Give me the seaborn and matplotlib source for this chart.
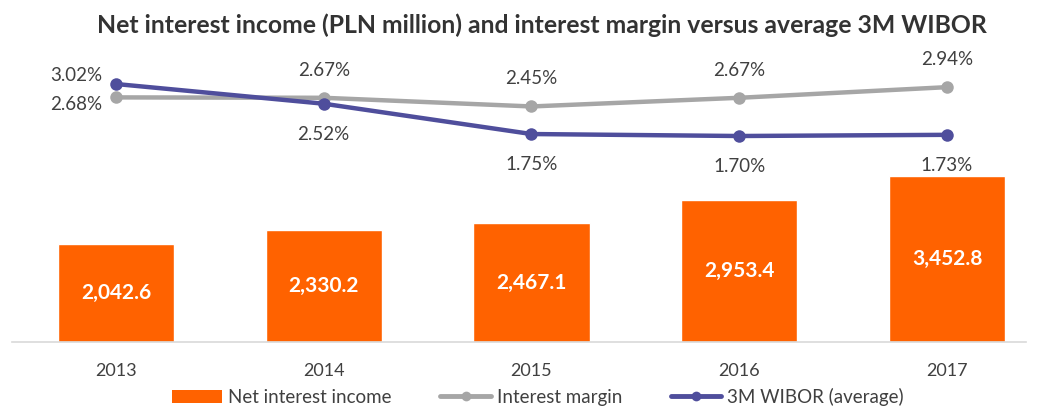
import numpy as np
import pandas as pd
import matplotlib
matplotlib.use("Agg")
import matplotlib.pyplot as plt
import seaborn as sns
from matplotlib.patches import Patch
from matplotlib.lines import Line2D

years = ["2013", "2014", "2015", "2016", "2017"]
net_interest_income = [2042.6, 2330.2, 2467.1, 2953.4, 3452.8]
interest_margin = [2.68, 2.67, 2.45, 2.67, 2.94]
wibor_3m = [3.02, 2.52, 1.75, 1.70, 1.73]

ORANGE = "#FF6200"
GREY = "#A6A6A6"
BLUE = "#4F4E9C"
TEXT = "#404040"

sns.set_theme(style="white")
plt.rcParams["font.family"] = ["Lato", "DejaVu Sans"]

df = pd.DataFrame({"year": years, "nii": net_interest_income,
                   "margin": interest_margin, "wibor": wibor_3m})
df["pos"] = np.arange(len(years))

fig = plt.figure(figsize=(10.38, 4.07), dpi=100)
ax = fig.add_axes([12 / 1038, 1 - 342 / 407, (1026 - 12) / 1038, (342 - 60) / 407])

sns.barplot(data=df, x="year", y="nii", color=ORANGE, saturation=1,
            width=0.56, ax=ax)
ax.set_ylim(0, 3452.8 * 282 / 166)
ax.set_xlim(-0.5, 4.38)
ax.set_xlabel("")
ax.set_ylabel("")
ax.set_yticks([])
for s in ["top", "left", "right"]:
    ax.spines[s].set_visible(False)
ax.spines["bottom"].set_color("#D9D9D9")
ax.spines["bottom"].set_linewidth(1.2)
ax.tick_params(axis="x", length=0, pad=15, labelsize=13, colors=TEXT)

for i, v in enumerate(net_interest_income):
    ax.text(i, v / 2, f"{v:,.1f}", ha="center", va="center", color="white",
            fontsize=15, fontweight="bold")

ax2 = ax.twinx()
sns.lineplot(data=df, x="pos", y="margin", color=GREY, lw=3.2, marker="o",
             markersize=9, markeredgewidth=0, ax=ax2)
sns.lineplot(data=df, x="pos", y="wibor", color=BLUE, lw=3.2, marker="o",
             markersize=9, markeredgewidth=0, ax=ax2)
lo = 3.02 - (342 - 84) / 39.4
hi = 3.02 + (84 - 60) / 39.4
ax2.set_ylim(lo, hi)
ax2.set_xlim(-0.5, 4.38)
ax2.set_yticks([])
ax2.set_ylabel("")
ax2.set_xlabel("")
for s in ["top", "left", "right", "bottom"]:
    ax2.spines[s].set_visible(False)

# labels
lbl = dict(fontsize=13.5, color=TEXT)
ax2.annotate(f"{wibor_3m[0]:.2f}%", (0, wibor_3m[0]), xytext=(-10, 6),
             textcoords="offset points", ha="right", va="center", **lbl)
ax2.annotate(f"{interest_margin[0]:.2f}%", (0, interest_margin[0]), xytext=(-10, -5),
             textcoords="offset points", ha="right", va="center", **lbl)
for i in range(1, len(years)):
    ax2.annotate(f"{interest_margin[i]:.2f}%", (i, interest_margin[i]), xytext=(0, 20),
                 textcoords="offset points", ha="center", va="center", **lbl)
    ax2.annotate(f"{wibor_3m[i]:.2f}%", (i, wibor_3m[i]), xytext=(0, -22),
                 textcoords="offset points", ha="center", va="center", **lbl)

fig.text(0.522, 1 - 25 / 407, "Net interest income (PLN million) and interest margin versus average 3M WIBOR",
         ha="center", va="center", fontsize=17.8, fontweight="bold", color="#333333")

handles = [Patch(facecolor=ORANGE, edgecolor="none"),
           Line2D([], [], color=GREY, lw=3.5, marker="o", markersize=7, markeredgewidth=0),
           Line2D([], [], color=BLUE, lw=3.5, marker="o", markersize=7, markeredgewidth=0)]
labels = ["Net interest income", "Interest margin", "3M WIBOR (average)"]
fig.legend(handles, labels, loc="center", bbox_to_anchor=(0.518, 1 - 397 / 407),
           ncol=3, frameon=False, fontsize=13.5, handlelength=2.7,
           handletextpad=0.3, columnspacing=2.6, labelcolor=TEXT)

fig.savefig("out.png", dpi=100)
